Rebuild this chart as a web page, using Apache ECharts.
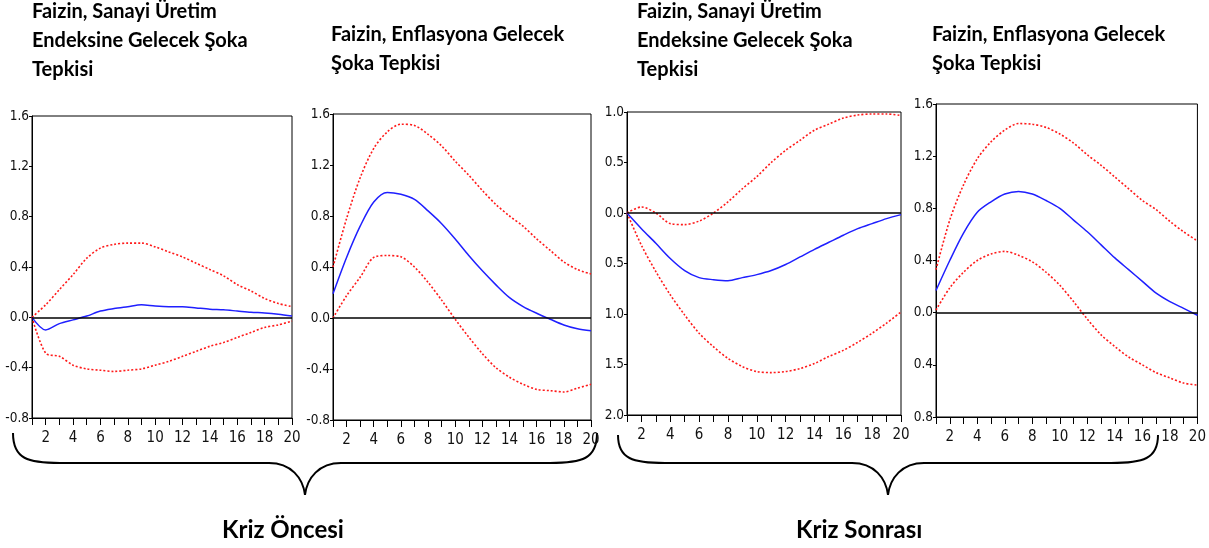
<!DOCTYPE html>
<html>
<head>
<meta charset="utf-8">
<script src="https://cdn.jsdelivr.net/npm/echarts@6/dist/echarts.min.js"></script>
<style>
  html, body { margin: 0; padding: 0; background: #fff; }
  #irf { width: 1209px; height: 548px; }
</style>
</head>
<body>
<div id="irf"></div>
<script>
// donem (1..20)
var periods = [1, 2, 3, 4, 5, 6, 7, 8, 9, 10, 11, 12, 13, 14, 15, 16, 17, 18, 19, 20];

var titles = [
  'Faizin, Sanayi Üretim\nEndeksine Gelecek Şoka\nTepkisi',
  'Faizin, Enflasyona Gelecek\nŞoka Tepkisi',
  'Faizin, Sanayi Üretim\nEndeksine Gelecek Şoka\nTepkisi',
  'Faizin, Enflasyona Gelecek\nŞoka Tepkisi'
];
var groupLabels = ['Kriz Öncesi', 'Kriz Sonrası'];

// Kriz oncesi - sanayi uretim soku
var p1Response = [0.0, -0.10, -0.05, -0.02, 0.01, 0.05, 0.07, 0.085, 0.10, 0.09, 0.085, 0.085, 0.075, 0.065, 0.06, 0.05, 0.04, 0.035, 0.025, 0.01];
var p1Upper = [0.0, 0.10, 0.22, 0.34, 0.47, 0.55, 0.58, 0.59, 0.59, 0.56, 0.52, 0.48, 0.43, 0.38, 0.33, 0.26, 0.21, 0.15, 0.11, 0.085];
var p1Lower = [0.0, -0.285, -0.31, -0.38, -0.41, -0.42, -0.43, -0.42, -0.41, -0.38, -0.35, -0.31, -0.27, -0.23, -0.20, -0.16, -0.12, -0.08, -0.06, -0.03];

// Kriz oncesi - enflasyon soku
var p2Response = [0.19, 0.475, 0.72, 0.91, 0.985, 0.97, 0.93, 0.84, 0.74, 0.62, 0.49, 0.37, 0.26, 0.16, 0.09, 0.037, -0.01, -0.055, -0.085, -0.10];
var p2Upper = [0.40, 0.78, 1.10, 1.33, 1.46, 1.52, 1.51, 1.44, 1.35, 1.23, 1.12, 1.00, 0.89, 0.80, 0.72, 0.62, 0.53, 0.44, 0.38, 0.345];
var p2Lower = [0.0, 0.175, 0.32, 0.475, 0.49, 0.48, 0.40, 0.28, 0.14, -0.01, -0.15, -0.28, -0.39, -0.465, -0.52, -0.56, -0.57, -0.58, -0.55, -0.52];

// Kriz sonrasi - sanayi uretim soku
var p3Response = [0.0, -0.155, -0.30, -0.45, -0.57, -0.64, -0.66, -0.67, -0.64, -0.61, -0.57, -0.51, -0.435, -0.36, -0.29, -0.22, -0.155, -0.105, -0.056, -0.016];
var p3Upper = [0.0, 0.06, 0.0, -0.105, -0.115, -0.08, 0.0, 0.11, 0.24, 0.36, 0.50, 0.62, 0.72, 0.82, 0.88, 0.94, 0.97, 0.98, 0.98, 0.965];
var p3Lower = [0.0, -0.32, -0.58, -0.81, -1.01, -1.19, -1.325, -1.44, -1.52, -1.57, -1.58, -1.57, -1.54, -1.49, -1.42, -1.36, -1.28, -1.19, -1.09, -0.98];

// Kriz sonrasi - enflasyon soku
var p4Response = [0.17, 0.40, 0.61, 0.77, 0.85, 0.91, 0.93, 0.91, 0.86, 0.80, 0.71, 0.62, 0.52, 0.42, 0.33, 0.24, 0.15, 0.085, 0.033, -0.02];
var p4Upper = [0.33, 0.71, 0.98, 1.18, 1.31, 1.40, 1.45, 1.445, 1.42, 1.37, 1.30, 1.21, 1.13, 1.04, 0.95, 0.86, 0.79, 0.70, 0.62, 0.55];
var p4Lower = [0.02, 0.19, 0.31, 0.40, 0.45, 0.47, 0.44, 0.39, 0.31, 0.21, 0.085, -0.05, -0.17, -0.26, -0.34, -0.40, -0.46, -0.50, -0.54, -0.555];

var yMins = [-0.8, -0.8, -2.0, -0.8];
var yMaxs = [1.6, 1.6, 1.0, 1.6];
var yIntervals = [0.4, 0.4, 0.5, 0.4];

var panels = [
  [p1Response, p1Upper, p1Lower],
  [p2Response, p2Upper, p2Lower],
  [p3Response, p3Upper, p3Lower],
  [p4Response, p4Upper, p4Lower]
];

var tickFont = '"Liberation Sans Narrow", "Arial Narrow", "DejaVu Sans Condensed", sans-serif';
var textFont = 'Lato, "Open Sans", sans-serif';

var grids = [
  {left: 32, top: 116, width: 260, height: 302},
  {left: 333, top: 114, width: 258, height: 306},
  {left: 627, top: 112, width: 274, height: 303},
  {left: 936, top: 104, width: 266, height: 313}
];
var titlePos = [[32, -3], [331, 20], [637, -3], [932, 20]];

function toPairs(values) {
  var out = [];
  for (var i = 0; i < periods.length; i++) {
    out.push([periods[i], values[i]]);
  }
  return out;
}

// kume parantezi: iki yan egri + duz parcalar + orta uc
function brace(x0, x1, yTop, yMid, yTip) {
  var xm = (x0 + x1) / 2;
  var st = {fill: 'none', stroke: '#000', lineWidth: 2};
  return [
    {type: 'bezierCurve', shape: {x1: x0, y1: yTop, cpx1: x0, cpy1: yMid - 4, cpx2: x0 + 15, cpy2: yMid, x2: x0 + 47, y2: yMid}, style: st},
    {type: 'line', shape: {x1: x0 + 47, y1: yMid, x2: xm - 36, y2: yMid}, style: st},
    {type: 'bezierCurve', shape: {x1: xm - 36, y1: yMid, cpx1: xm - 14, cpy1: yMid, cpx2: xm - 2, cpy2: yMid + 15, x2: xm, y2: yTip}, style: st},
    {type: 'bezierCurve', shape: {x1: xm, y1: yTip, cpx1: xm + 2, cpy1: yMid + 15, cpx2: xm + 14, cpy2: yMid, x2: xm + 36, y2: yMid}, style: st},
    {type: 'line', shape: {x1: xm + 36, y1: yMid, x2: x1 - 47, y2: yMid}, style: st},
    {type: 'bezierCurve', shape: {x1: x1 - 47, y1: yMid, cpx1: x1 - 15, cpy1: yMid, cpx2: x1, cpy2: yMid - 4, x2: x1, y2: yTop}, style: st}
  ];
}

var optionIrf = {
  animation: false,
  backgroundColor: '#fff',
  title: [],
  grid: [],
  xAxis: [],
  yAxis: [],
  series: [],
  graphic: []
};

for (var k = 0; k < 4; k++) {
  optionIrf.title.push({
    text: titles[k],
    left: titlePos[k][0],
    top: titlePos[k][1],
    padding: 0,
    textStyle: {fontFamily: textFont, fontWeight: 'bold', fontSize: 20, lineHeight: 29, color: '#000'}
  });

  optionIrf.grid.push({
    left: grids[k].left, top: grids[k].top, width: grids[k].width, height: grids[k].height,
    show: true, borderColor: '#000', borderWidth: 1
  });

  optionIrf.xAxis.push({
    gridIndex: k,
    type: 'value',
    min: 1,
    max: 20,
    interval: 1,
    axisLine: {show: true, onZero: false, lineStyle: {color: '#000', width: 1}},
    axisTick: {show: true, length: 7, lineStyle: {color: '#000'}},
    axisLabel: {
      margin: 13, fontSize: 15, color: '#111', fontFamily: tickFont,
      formatter: function(v) { return v % 2 === 0 ? String(v) : ''; }
    },
    splitLine: {show: false}
  });

  // sag paneldeki negatif etiketler resimde eksi isaretsiz
  var absLabels = (k >= 2);
  optionIrf.yAxis.push({
    gridIndex: k,
    type: 'value',
    min: yMins[k],
    max: yMaxs[k],
    interval: yIntervals[k],
    axisLine: {show: true, onZero: false, lineStyle: {color: '#000', width: 1}},
    axisTick: {show: true, length: 3, lineStyle: {color: '#000'}},
    axisLabel: {
      margin: 3, fontSize: 13.5, color: '#111', fontFamily: tickFont,
      formatter: absLabels
        ? function(v) { return Math.abs(v).toFixed(1); }
        : function(v) { return v.toFixed(1); }
    },
    splitLine: {show: false}
  });

  optionIrf.series.push({
    type: 'line',
    xAxisIndex: k,
    yAxisIndex: k,
    data: toPairs(panels[k][0]),
    symbol: 'none',
    smooth: 0.3,
    lineStyle: {color: '#1f1fff', width: 1.5},
    z: 3,
    markLine: {
      silent: true,
      symbol: 'none',
      label: {show: false},
      lineStyle: {color: '#000', width: 1.5, type: 'solid'},
      data: [{yAxis: 0}]
    }
  });
  for (var b = 1; b <= 2; b++) {
    optionIrf.series.push({
      type: 'line',
      xAxisIndex: k,
      yAxisIndex: k,
      data: toPairs(panels[k][b]),
      symbol: 'none',
      smooth: 0.3,
      lineStyle: {color: '#ff1a1a', width: 1.6, type: [2, 2]},
      z: 2
    });
  }
}

optionIrf.graphic = optionIrf.graphic
  .concat(brace(13, 597, 433, 463, 495))
  .concat(brace(618, 1158, 435, 463, 495));
optionIrf.graphic.push({
  type: 'text', left: 222, top: 518,
  style: {text: groupLabels[0], font: 'bold 24px ' + textFont, fill: '#000'}
});
optionIrf.graphic.push({
  type: 'text', left: 796, top: 518,
  style: {text: groupLabels[1], font: 'bold 24px ' + textFont, fill: '#000'}
});

var chartIrf = echarts.init(document.getElementById('irf'));
chartIrf.setOption(optionIrf);
</script>
</body>
</html>
